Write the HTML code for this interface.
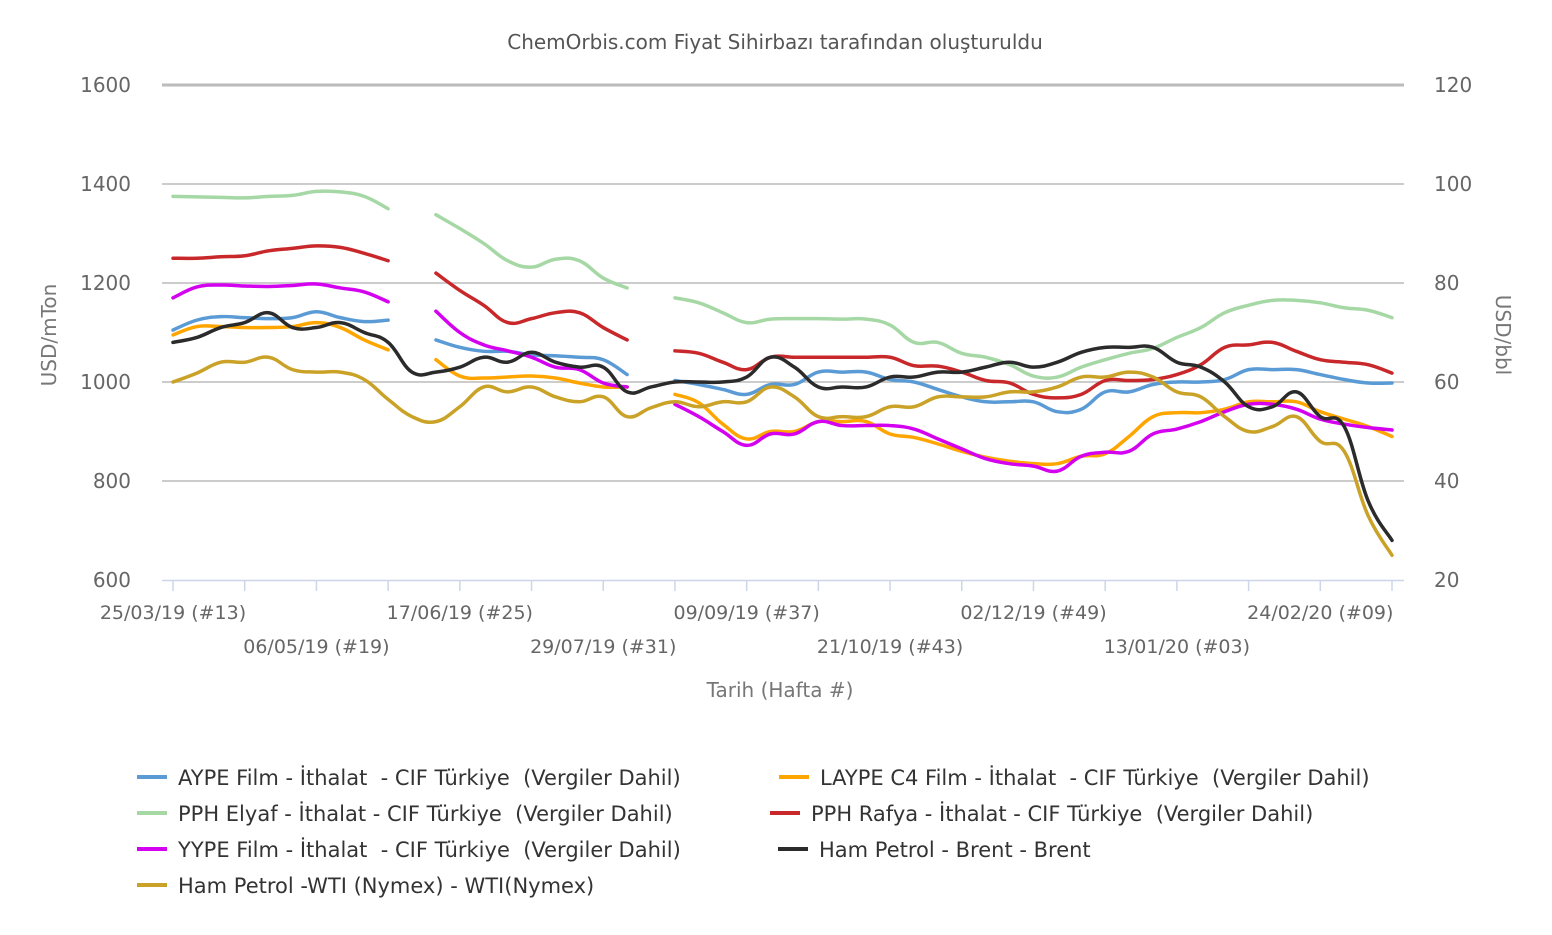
<!DOCTYPE html>
<html><head><meta charset="utf-8">
<style>
body{margin:0;background:#fff;}
svg text{font-family:"DejaVu Sans","Liberation Sans",sans-serif;white-space:pre;}
</style></head>
<body>
<svg id="chart" width="1552" height="930" viewBox="0 0 1552 930" xmlns="http://www.w3.org/2000/svg">
<text x="775" y="49" text-anchor="middle" font-size="20" fill="#555">ChemOrbis.com Fiyat Sihirbazı tarafından oluşturuldu</text>
<g id="grid"></g>
<g id="axes"></g>
<g id="series"></g>
<text transform="translate(56,335) rotate(-90)" text-anchor="middle" font-size="20" fill="#777">USD/mTon</text>
<text transform="translate(1496,335) rotate(90)" text-anchor="middle" font-size="20" fill="#777">USD/bbl</text>
<text x="780" y="697" text-anchor="middle" font-size="20" fill="#777">Tarih (Hafta #)</text>
<g id="legend"></g>
</svg>
<script>
const weekCount = 52;
const leftTicks = [600, 800, 1000, 1200, 1400, 1600];
const rightTicks = [20, 40, 60, 80, 100, 120];
const xLabelIdx = [0, 6, 12, 18, 24, 30, 36, 42, 48];
const xLabels = ["25/03/19 (#13)","06/05/19 (#19)","17/06/19 (#25)","29/07/19 (#31)","09/09/19 (#37)","21/10/19 (#43)","02/12/19 (#49)","13/01/20 (#03)","24/02/20 (#09)"];
const N = null;
const aype = [1105,1125,1132,1130,1128,1130,1142,1130,1122,1125,N,1085,1070,1062,1062,1055,1053,1050,1045,1015,N,1003,995,985,975,995,995,1020,1020,1020,1005,1000,985,970,960,960,960,940,945,980,980,995,1000,1000,1005,1025,1025,1025,1015,1005,998,998];
const laype = [1095,1112,1112,1110,1110,1112,1120,1110,1085,1065,N,1045,1012,1008,1010,1012,1008,998,990,990,N,975,958,915,885,900,900,920,920,920,895,888,875,860,848,840,835,835,850,855,890,930,938,938,945,960,960,960,940,925,910,890];
const pphElyaf = [1375,1374,1373,1372,1375,1377,1385,1384,1375,1350,N,1338,1310,1280,1245,1232,1248,1245,1210,1190,N,1170,1160,1140,1120,1127,1128,1128,1127,1127,1115,1080,1080,1058,1050,1035,1012,1010,1030,1045,1058,1068,1090,1110,1140,1155,1165,1165,1160,1150,1145,1130];
const pphRafya = [1250,1250,1253,1255,1265,1270,1275,1272,1260,1245,N,1220,1185,1155,1120,1128,1140,1140,1110,1085,N,1063,1058,1040,1025,1050,1050,1050,1050,1050,1050,1033,1032,1020,1003,998,975,968,975,1003,1003,1005,1015,1035,1070,1075,1080,1062,1045,1040,1035,1018];
const yype = [1170,1192,1196,1194,1193,1195,1198,1190,1182,1162,N,1143,1100,1075,1063,1050,1030,1025,998,990,N,955,930,900,872,895,895,920,912,912,912,905,885,865,845,835,830,820,850,858,860,895,905,920,940,955,955,945,925,915,908,903];
const brent = [68,69,71,72,74,71,71,72,70,68,62,62,63,65,64,66,64,63,63,58,59,60,60,60,61,65,63,59,59,59,61,61,62,62,63,64,63,64,66,67,67,67,64,63,60,55,55,58,53,51,36,28];
const wti = [60,61.8,64,64,65,62.5,62,62,60.5,56.5,53,52,55,59,58,59,57,56,57,53,54.8,56,55,56,56,59,57,53,53,53,55,55,57,57,57,58,58,59,61,61,62,61,58,57,53,50,51,53,48,46,33,25];

const NS="http://www.w3.org/2000/svg";
const X0=173, X1=1392, YT=85, YB=580;
const xS=i=>X0+(X1-X0)*i/(weekCount-1);
const yL=v=>YB-(v-600)/1000*(YB-YT);
const yR=v=>YB-(v-20)/100*(YB-YT);
function mk(tag,attrs,parent){const e=document.createElementNS(NS,tag);for(const k in attrs)e.setAttribute(k,attrs[k]);parent.appendChild(e);return e;}
const grid=document.getElementById('grid'),axes=document.getElementById('axes'),ser=document.getElementById('series'),leg=document.getElementById('legend');
leftTicks.forEach((t,k)=>{
  const y=yL(t);
  if(k>0){const g=mk('line',{x1:162,x2:1404,y1:y,y2:y,stroke:'#bbb','stroke-width':k===leftTicks.length-1?3:1.5},grid);
  
  }
  const tl=mk('text',{x:131,y:y+7,'text-anchor':'end','font-size':20,fill:'#666'},axes);tl.textContent=t;
  
  
});
rightTicks.forEach(t=>{
  const tr=mk('text',{x:1434,y:yR(t)+7,'font-size':20,fill:'#666'},axes);tr.textContent=t;
  
  
});
const ax=mk('line',{x1:162,x2:1404,y1:YB+0.5,y2:YB+0.5,stroke:'#ccd6eb','stroke-width':1.5},axes);


for(let i=0;i<weekCount;i+=3){const tk=mk('line',{x1:xS(i),x2:xS(i),y1:YB,y2:YB+11,stroke:'#ccd6eb','stroke-width':1.5},axes);
  
  }
xLabelIdx.forEach((i,k)=>{
  const t=mk('text',{x:xS(i),y:(k%2===0)?619:653,'text-anchor':'middle','font-size':19,fill:'#666'},axes);t.textContent=xLabels[k];
  
  
});
function pathFor(arr,ys){
  let d='',seg=[];const segs=[];
  arr.forEach((v,i)=>{if(v===null){if(seg.length)segs.push(seg);seg=[];}else seg.push([xS(i),ys(v)]);});
  if(seg.length)segs.push(seg);
  segs.forEach(p=>{
    d+='M'+p[0][0]+','+p[0][1];
    for(let i=0;i<p.length-1;i++){
      const p0=p[Math.max(0,i-1)],p1=p[i],p2=p[i+1],p3=p[Math.min(p.length-1,i+2)];
      const t=0.2;
      d+=' C'+(p1[0]+(p2[0]-p0[0])*t)+','+(p1[1]+(p2[1]-p0[1])*t)+' '+(p2[0]-(p3[0]-p1[0])*t)+','+(p2[1]-(p3[1]-p1[1])*t)+' '+p2[0]+','+p2[1];
    }
  });
  return d;
}
const seriesDefs=[
 ['series-aype-film',aype,yL,'#5b9bd5'],
 ['series-laype-c4-film',laype,yL,'#ffa500'],
 ['series-pph-elyaf',pphElyaf,yL,'#a6d8a6'],
 ['series-pph-rafya',pphRafya,yL,'#c8282a'],
 ['series-yype-film',yype,yL,'#d400f0'],
 ['series-wti',wti,yR,'#c9a227'],
 ['series-brent',brent,yR,'#2b2b2b']
];
seriesDefs.forEach(s=>{
  const p=mk('path',{d:pathFor(s[1],s[2]),fill:'none',stroke:s[3],'stroke-width':3.5,'stroke-linejoin':'round','stroke-linecap':'round'},ser);
  
  
});
const legendItems=[
 ['AYPE Film - İthalat  - CIF Türkiye  (Vergiler Dahil)','#5b9bd5',137,777],
 ['LAYPE C4 Film - İthalat  - CIF Türkiye  (Vergiler Dahil)','#ffa500',779,777],
 ['PPH Elyaf - İthalat - CIF Türkiye  (Vergiler Dahil)','#a6d8a6',137,813],
 ['PPH Rafya - İthalat - CIF Türkiye  (Vergiler Dahil)','#c8282a',770,813],
 ['YYPE Film - İthalat  - CIF Türkiye  (Vergiler Dahil)','#d400f0',137,849],
 ['Ham Petrol - Brent - Brent','#2b2b2b',778,849],
 ['Ham Petrol -WTI (Nymex) - WTI(Nymex)','#c9a227',137,885]
];
legendItems.forEach(l=>{
  const g=mk('g',{},leg);
  
  
  mk('line',{x1:l[2],x2:l[2]+30,y1:l[3],y2:l[3],stroke:l[1],'stroke-width':4},g);
  const t=mk('text',{x:l[2]+41,y:l[3]+8,'font-size':21,fill:'#333'},g);t.textContent=l[0];
});
</script>
</body></html>
